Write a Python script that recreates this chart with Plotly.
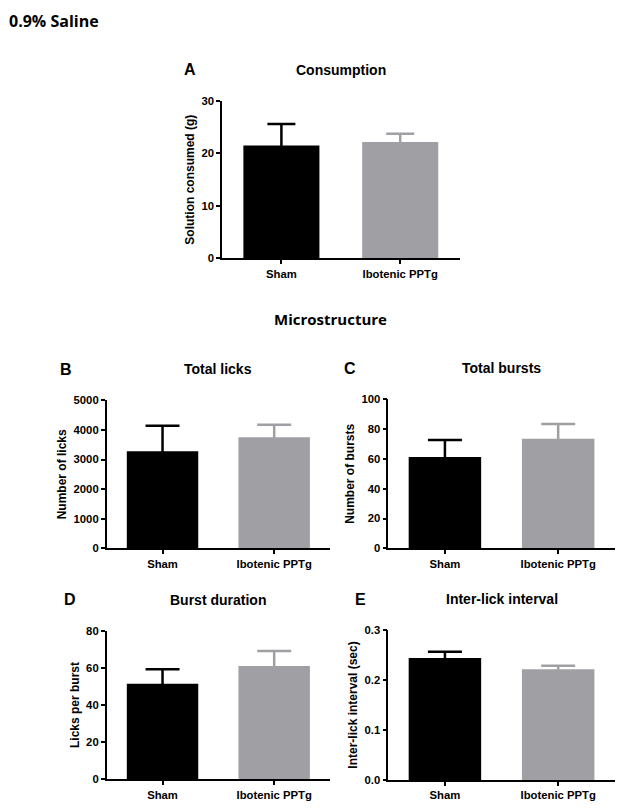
import plotly.graph_objects as go

groups = ["Sham", "Ibotenic PPTg"]
bar_colors = ["#000000", "#a0a0a4"]

consumption_mean = [21.5, 22.2]
consumption_sem = [4.1, 1.55]
licks_mean = [3277, 3750]
licks_sem = [865, 426]
bursts_mean = [61.3, 73.6]
bursts_sem = [11.4, 9.8]
duration_mean = [51.5, 61.0]
duration_sem = [7.7, 8.1]
ili_mean = [0.244, 0.2213]
ili_sem = [0.0127, 0.0074]

# page body has an 8px margin; figure is sized to fill the rest of the window
OFF = 8
W, H = 627 - OFF, 811 - OFF

def px_x(p):
    return (p - OFF) / W

def px_y(p):
    return 1 - (p - OFF) / H

panels = [
    ("", consumption_mean, consumption_sem, 30, 10, "Solution consumed (g)", "Consumption", "A",
     (222, 459.6), (258.3, 101), "d", 14, 190),
    ("2", licks_mean, licks_sem, 5000, 1000, "Number of licks", "Total licks", "B",
     (106.7, 330), (548.3, 400.3), "d", 17, 66),
    ("3", bursts_mean, bursts_sem, 100, 20, "Number of bursts", "Total bursts", "C",
     (388.3, 614.8), (548.3, 399.3), "d", 17, 350),
    ("4", duration_mean, duration_sem, 80, 20, "Licks per burst", "Burst duration", "D",
     (106.7, 330), (779.3, 630.7), "d", 17, 70),
    ("5", ili_mean, ili_sem, 0.3, 0.1, "Inter-lick interval (sec)", "Inter-lick interval", "E",
     (388.3, 614.8), (780, 630), ".1f", 17, 360),
]

fig = go.Figure()
FONT = "Liberation Sans"
annotations = []

for key, means, sems, ymax, dtick, ytitle, title, letter, xd, yd, tf, capw, lx in panels:
    for i in range(2):
        fig.add_trace(go.Bar(
            x=[i], y=[means[i]],
            marker=dict(color=bar_colors[i], line=dict(width=0)),
            width=0.64,
            error_y=dict(type="data", symmetric=True, array=[sems[i]],
                         color=bar_colors[i], thickness=2.5, width=capw),
            xaxis="x" + key, yaxis="y" + key, showlegend=False,
        ))
    xdom = [px_x(xd[0]), px_x(xd[1])]
    ydom = [px_y(yd[0]), px_y(yd[1])]
    fig.layout["xaxis" + key] = dict(
        domain=xdom, anchor="y" + key, range=[-0.5, 1.5],
        tickmode="array", tickvals=[0, 1], ticktext=groups,
        ticks="outside", ticklen=4, tickwidth=1.5, tickcolor="black",
        showline=True, linecolor="black", linewidth=1.5, showgrid=False, zeroline=False,
        tickfont=dict(family=FONT, size=11.3, color="black", weight="bold"),
        fixedrange=True,
    )
    fig.layout["yaxis" + key] = dict(
        domain=ydom, anchor="x" + key, range=[0, ymax],
        tickmode="linear", tick0=0, dtick=dtick, tickformat=tf,
        ticks="outside", ticklen=4, tickwidth=1.5, tickcolor="black",
        showline=True, linecolor="black", linewidth=1.5, showgrid=False, zeroline=False,
        tickfont=dict(family=FONT, size=11.3, color="black", weight="bold"),
        title=dict(text=ytitle, standoff=4,
                   font=dict(family=FONT, size=12, color="black", weight="bold")),
        automargin=False,
    )
    cx = (xdom[0] + xdom[1]) / 2
    ty = px_y(yd[1] - 31)
    annotations.append(dict(text=title, x=cx, y=ty, xref="paper", yref="paper",
                            showarrow=False, xanchor="center", yanchor="middle",
                            font=dict(family=FONT, size=14, color="black", weight="bold")))
    annotations.append(dict(text=letter, x=px_x(lx), y=ty, xref="paper", yref="paper",
                            showarrow=False, xanchor="center", yanchor="middle",
                            font=dict(family=FONT, size=16, color="black", weight="bold")))

annotations.append(dict(text="0.9% Saline", x=px_x(53.5), y=1, xref="paper", yref="paper",
                        showarrow=False, xanchor="center", yanchor="top",
                        font=dict(family="Open Sans", size=16, color="black", weight="bold")))
annotations.append(dict(text="Microstructure", x=px_x(330), y=px_y(318.5), xref="paper", yref="paper",
                        showarrow=False, xanchor="center", yanchor="middle",
                        font=dict(family="Open Sans", size=15, color="black", weight="bold")))

fig.update_layout(
    width=W, height=H,
    margin=dict(l=0, r=0, t=0, b=0),
    paper_bgcolor="white", plot_bgcolor="white",
    annotations=annotations,
)

fig.write_html("out.html")
